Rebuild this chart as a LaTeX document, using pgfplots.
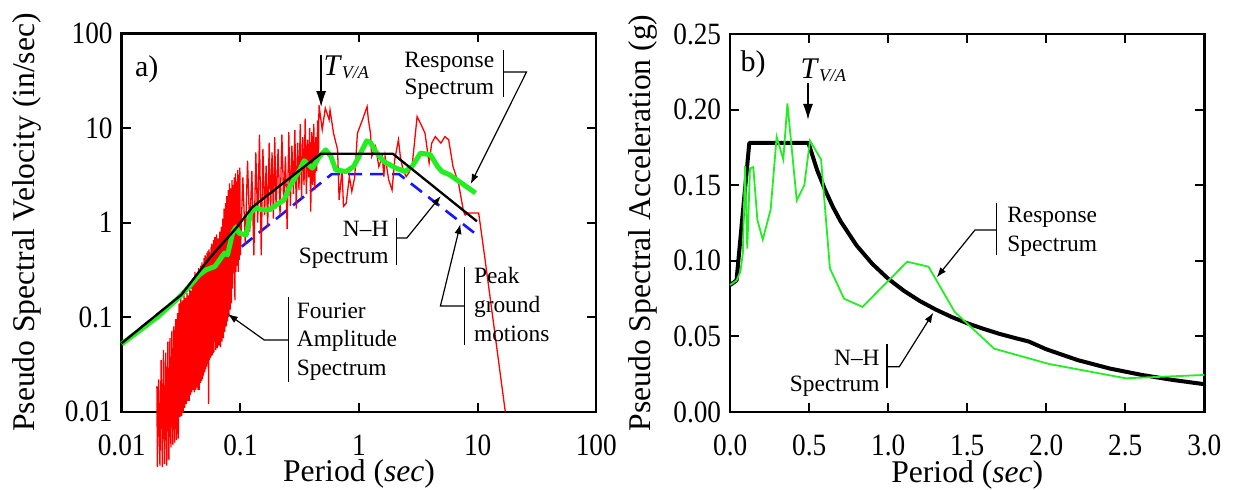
\documentclass[border=0pt]{standalone}
\usepackage{fontspec}
\setmainfont{Liberation Serif}
\newfontfamily\tickfont{Liberation Serif}[FakeStretch=0.88]
\usepackage{pgfplots}
\pgfplotsset{compat=1.18}
\usetikzlibrary{arrows.meta}
\definecolor{fasred}{HTML}{FF0000}
\definecolor{rsgreen}{HTML}{22EE22}
\definecolor{pgmblue}{HTML}{1515FF}
\newcommand{\annot}{\fontsize{11.7}{14}\selectfont}
\newcommand{\TVA}{\textit{T}\raisebox{-1.5pt}{\fontsize{9}{9}\selectfont\itshape V/A}}

\tikzset{arr/.style={line width=0.6pt, -{Latex[length=5pt,width=3.6pt]}}}
\pgfplotsset{
  panel/.style={
    scale only axis, anchor=south west, clip=false,
    axis line style={line width=1.2pt},
    every tick/.style={black, line width=1pt},
    major tick length=4.5pt, tick align=inside,
    ticklabel style={font=\tickfont\fontsize{15.5}{18}\selectfont},
    /pgf/number format/assume math mode=true,
    xticklabel style={anchor=base, yshift=-21.7pt, inner sep=0.5pt},
    yticklabel style={xshift=-1pt},
    label style={font=\fontsize{15.8}{19}\selectfont},
    xlabel style={at={(axis description cs:0.5,0)}, anchor=base, yshift=-35pt, inner sep=0.5pt},
    scaled ticks=false,
  },
}

\begin{document}
\begin{tikzpicture}
% ---- a) velocity spectra, log-log
\begin{axis}[panel, at={(60.85pt,38.65pt)}, width=237.3pt, height=189.2pt,
  xmode=log, ymode=log, xmin=0.01, xmax=100, ymin=0.01, ymax=100,
  xtick={0.01,0.1,1,10,100}, xticklabels={0.01,0.1,1,10,100},
  ytick={0.01,0.1,1,10,100}, yticklabels={0.01,0.1,1,10,100},
  xminorticks=false, yminorticks=false,
  xlabel={Period (\textit{sec})},
  ylabel={Pseudo Spectral Velocity (in/sec)},
  ylabel style={at={(axis description cs:-0.1828,0.5)}, anchor=base}]
% peak ground motions
\addplot[pgmblue, line width=1.3pt, dash pattern=on 7pt off 4pt] coordinates {
(0.01,0.053)(0.59,3.25)(2.17,3.25)(9.86,0.74)
};
% Fourier amplitude spectrum
\addplot[fasred, line width=0.65pt] coordinates {
(0.0198,0.0185)(0.0200,0.0026)(0.0205,0.022)(0.0210,0.0027)(0.0215,0.035)(0.0220,0.0026)
(0.0225,0.045)(0.0230,0.0028)(0.0235,0.042)(0.0240,0.0027)(0.0245,0.055)(0.0250,0.0031)
(0.0255,0.060)(0.0260,0.0042)(0.0265,0.072)(0.0270,0.0045)(0.0275,0.080)(0.0280,0.0047)
(0.0285,0.095)(0.0290,0.0050)(0.0295,0.110)(0.0300,0.0052)(0.0305,0.140)(0.0310,0.0088)
(0.0315,0.160)(0.0320,0.0090)(0.0325,0.150)(0.0330,0.0098)(0.0335,0.170)(0.0340,0.011)
(0.0345,0.160)(0.0350,0.012)(0.0355,0.180)(0.0360,0.013)(0.0365,0.170)(0.0370,0.013)
(0.0375,0.200)(0.0380,0.015)(0.0385,0.190)(0.0390,0.016)(0.0395,0.220)(0.0400,0.017)
(0.0405,0.240)(0.0410,0.016)(0.0415,0.300)(0.0420,0.017)(0.0425,0.280)(0.0430,0.018)
(0.0435,0.300)(0.0440,0.017)(0.0445,0.330)(0.0450,0.017)(0.0455,0.310)(0.0460,0.020)
(0.0465,0.350)(0.0470,0.021)(0.0475,0.380)(0.0480,0.022)(0.0485,0.360)(0.0490,0.024)
(0.0495,0.420)(0.0500,0.026)(0.0505,0.450)(0.0510,0.028)(0.0515,0.430)(0.0520,0.030)
(0.0525,0.480)(0.0530,0.032)(0.0535,0.500)(0.0540,0.012)(0.0545,0.520)(0.0550,0.035)
(0.0555,0.480)(0.0560,0.037)(0.0565,0.550)(0.0570,0.039)(0.0575,0.600)(0.0580,0.040)
(0.0585,0.580)(0.0590,0.042)(0.0595,0.650)(0.0600,0.043)
(0.061,0.70)(0.062,0.045)(0.063,0.75)(0.064,0.047)(0.065,0.68)(0.066,0.050)
(0.067,0.80)(0.068,0.048)(0.069,0.90)(0.070,0.055)(0.071,1.10)(0.072,0.060)
(0.073,1.40)(0.074,0.070)(0.075,1.60)(0.076,0.080)(0.077,1.90)(0.078,0.090)
(0.079,2.20)(0.080,0.100)(0.081,2.60)(0.082,0.120)(0.083,2.30)(0.084,0.140)
(0.085,2.80)(0.086,0.200)(0.087,2.50)(0.088,0.290)(0.089,3.00)(0.090,0.150)
(0.091,3.30)(0.092,0.300)(0.093,2.70)(0.094,0.350)(0.095,3.60)(0.096,0.300)
(0.097,3.20)(0.098,0.400)(0.099,3.80)(0.100,0.450)
(0.105,3.0)(0.110,0.6)(0.115,4.5)(0.120,0.8)(0.125,3.5)(0.130,0.45)(0.135,5.5)
(0.140,1.0)(0.145,8.5)(0.150,0.45)(0.155,6.0)(0.160,1.2)(0.165,4.0)(0.170,0.9)
(0.175,7.0)(0.180,1.3)(0.185,5.5)(0.190,1.1)(0.195,8.0)(0.200,1.4)(0.208,6.0)
(0.216,1.2)(0.224,8.5)(0.232,1.6)(0.240,5.0)(0.248,0.85)(0.256,9.0)(0.264,1.5)
(0.272,6.5)(0.280,2.0)(0.288,9.5)(0.296,1.4)(0.304,7.0)(0.312,2.2)(0.320,11.0)
(0.328,1.8)(0.336,8.0)(0.344,2.5)(0.352,12.5)(0.360,2.0)(0.368,7.5)(0.376,3.0)
(0.384,10.0)(0.392,1.3)(0.400,9.0)(0.408,2.5)(0.416,11.0)(0.424,2.2)(0.432,8.0)
(0.440,3.5)(0.448,12.0)(0.456,5.0)(0.460,17.5)
(0.49,9.6)(0.52,16.2)(0.56,12.2)(0.57,15.5)(0.61,8.8)(0.66,5.9)(0.68,1.74)
(0.72,3.6)(0.74,1.48)(0.78,1.6)(0.83,3.06)(0.87,2.13)(0.92,3.0)(0.97,8.8)
(1.07,12.2)(1.17,16.8)(1.20,12.2)(1.25,8.8)(1.28,5.0)(1.38,6.4)(1.47,3.9)
(1.57,5.0)(1.62,3.06)(1.66,5.0)(1.78,2.83)(1.90,2.2)(2.00,4.6)(2.15,7.5)
(2.23,5.0)(2.35,3.6)(2.50,3.06)(2.62,3.33)(2.80,3.9)(3.09,13.2)(3.40,10.3)
(3.60,8.8)(3.90,4.25)(4.10,6.9)(4.40,8.1)(4.90,6.9)(5.30,8.1)(5.70,7.5)
(6.20,3.9)(6.90,2.6)(7.60,1.31)(7.85,1.2)(8.30,1.26)(9.50,1.26)(10.2,1.26)
(11.6,0.39)(17.1,0.01)
};
% response spectrum
\addplot[rsgreen, line width=2.5pt, line join=round] coordinates {
(0.01,0.052)(0.02,0.100)(0.031,0.165)(0.037,0.210)(0.045,0.28)(0.0515,0.316)
(0.061,0.343)(0.0735,0.475)(0.078,0.456)(0.086,0.77)(0.092,0.90)(0.098,0.77)
(0.112,0.74)(0.123,1.31)(0.136,1.42)(0.154,1.36)(0.174,1.36)(0.212,1.6)
(0.234,1.74)(0.261,2.4)(0.316,3.6)(0.345,4.5)(0.405,3.76)(0.464,5.0)
(0.524,5.87)(0.58,5.0)(0.637,3.6)(0.78,3.46)(0.90,3.9)(1.0,5.0)(1.16,7.3)
(1.25,7.0)(1.40,5.5)(1.62,4.4)(2.05,3.76)(2.44,3.46)(2.80,3.9)(3.30,5.42)
(4.0,5.2)(4.6,3.9)(5.0,3.46)(5.8,3.2)(9.6,2.05)
};
% N-H spectrum
\addplot[black, line width=1.15pt] coordinates {
(0.01,0.053)(0.0318,0.172)(0.055,0.42)(0.092,0.87)(0.126,1.45)
(0.477,5.33)(1.93,5.33)(9.86,1.03)
};
% annotations
\node[anchor=base west, inner sep=0, font=\fontsize{15}{18}\selectfont] at (axis description cs:0.0273,0.887) {a)};
\node[anchor=base west, inner sep=0, font=\fontsize{15}{18}\selectfont] at (axis description cs:0.4244,0.8898) {\TVA};
\draw[line width=0.7pt, -{Latex[length=8pt,width=5pt]}] (axis description cs:0.4202,0.943) -- (axis description cs:0.4202,0.805);
\node[anchor=base east, inner sep=0, font=\annot] at (axis description cs:0.7857,0.911) {Response};
\node[anchor=base east, inner sep=0, font=\annot] at (axis description cs:0.7857,0.8396) {Spectrum};
\draw[line width=0.8pt] (axis description cs:0.8046,0.9559) -- (axis description cs:0.8046,0.8316);
\draw[arr] (axis description cs:0.8046,0.8977) -- (axis description cs:0.853,0.8977) -- (axis description cs:0.7353,0.6017);
\node[anchor=base east, inner sep=0, font=\annot] at (axis description cs:0.563,0.4643) {N--H};
\node[anchor=base east, inner sep=0, font=\annot] at (axis description cs:0.563,0.393) {Spectrum};
\draw[line width=0.8pt] (axis description cs:0.5788,0.5119) -- (axis description cs:0.5788,0.3877);
\draw[arr] (axis description cs:0.5788,0.459) -- (axis description cs:0.6008,0.459) -- (axis description cs:0.6723,0.570);
\node[anchor=base west, inner sep=0, font=\annot] at (axis description cs:0.7416,0.3396) {Peak};
\node[anchor=base west, inner sep=0, font=\annot] at (axis description cs:0.7416,0.2629) {ground};
\node[anchor=base west, inner sep=0, font=\annot] at (axis description cs:0.7416,0.1863) {motions};
\draw[line width=0.8pt] (axis description cs:0.7227,0.3824) -- (axis description cs:0.7227,0.1763);
\draw[arr] (axis description cs:0.7227,0.2793) -- (axis description cs:0.6716,0.2793) -- (axis description cs:0.7137,0.496);
\node[anchor=base west, inner sep=0, font=\annot] at (axis description cs:0.3683,0.2474) {Fourier};
\node[anchor=base west, inner sep=0, font=\annot] at (axis description cs:0.3683,0.1712) {Amplitude};
\node[anchor=base west, inner sep=0, font=\annot] at (axis description cs:0.3683,0.0970) {Spectrum};
\draw[line width=0.8pt] (axis description cs:0.3515,0.3039) -- (axis description cs:0.3515,0.0793);
\draw[arr] (axis description cs:0.3515,0.1895) -- (axis description cs:0.3004,0.1895) -- (axis description cs:0.2237,0.2582);
\end{axis}

% ---- b) acceleration spectra
\begin{axis}[panel, at={(365.1pt,38.5pt)}, width=237.05pt, height=189pt,
  xmin=0, xmax=3, ymin=0, ymax=0.25,
  xtick={0,0.5,1,1.5,2,2.5,3}, xticklabels={0.0,0.5,1.0,1.5,2.0,2.5,3.0},
  ytick={0,0.05,0.1,0.15,0.2,0.25}, yticklabels={0.00,0.05,0.10,0.15,0.20,0.25},
  xlabel={Period (\textit{sec})},
  ylabel={Pseudo Spectral Acceleration (g)},
  ylabel style={at={(axis description cs:-0.1687,0.5)}, anchor=base}]
% N-H spectrum
\addplot[black, line width=2pt, line join=round] coordinates {
(0,0.084)(0.04,0.087)(0.121,0.178)(0.495,0.178)(0.55,0.160)(0.6,0.147)
(0.65,0.1356)(0.7,0.1259)(0.8,0.1101)(0.9,0.0979)(1.0,0.0881)(1.1,0.0801)
(1.2,0.0734)(1.3,0.0678)(1.4,0.0629)(1.5,0.0587)(1.6,0.0551)(1.7,0.0518)
(1.8,0.0490)(1.89,0.0466)(2.0,0.0415)(2.2,0.0343)(2.4,0.0288)(2.6,0.0246)
(2.8,0.0212)(3.0,0.0184)
};
% response spectrum
\addplot[rsgreen, line width=0.9pt] coordinates {
(0,0.084)(0.04,0.087)(0.065,0.093)(0.08,0.105)(0.094,0.163)(0.108,0.108)
(0.125,0.161)(0.146,0.162)(0.172,0.127)(0.206,0.114)(0.256,0.134)(0.294,0.182)
(0.336,0.167)(0.362,0.204)(0.421,0.140)(0.469,0.150)(0.505,0.1795)(0.575,0.167)
(0.631,0.095)(0.72,0.075)(0.837,0.0695)(1.12,0.0994)(1.255,0.0961)(1.42,0.0663)
(1.67,0.0419)(2.016,0.0318)(2.503,0.0223)(3.0,0.0245)
};
% annotations
\node[anchor=base west, inner sep=0, font=\fontsize{15}{18}\selectfont] at (axis description cs:0.0213,0.902) {b)};
\node[anchor=base west, inner sep=0, font=\fontsize{15}{18}\selectfont] at (axis description cs:0.1479,0.8829) {\TVA};
\draw[line width=0.7pt, -{Latex[length=8pt,width=5pt]}] (axis description cs:0.1641,0.8704) -- (axis description cs:0.1641,0.7725);
\node[anchor=base west, inner sep=0, font=\annot] at (axis description cs:0.5838,0.5026) {Response};
\node[anchor=base west, inner sep=0, font=\annot] at (axis description cs:0.5838,0.4241) {Spectrum};
\draw[line width=0.8pt] (axis description cs:0.5621,0.5529) -- (axis description cs:0.5621,0.4153);
\draw[arr] (axis description cs:0.5621,0.4815) -- (axis description cs:0.5163,0.4815) -- (axis description cs:0.4356,0.3563);
\node[anchor=base east, inner sep=0, font=\annot] at (axis description cs:0.316,0.1243) {N--H};
\node[anchor=base east, inner sep=0, font=\annot] at (axis description cs:0.316,0.0537) {Spectrum};
\draw[line width=0.8pt] (axis description cs:0.3301,0.1799) -- (axis description cs:0.3301,0.0635);
\draw[arr] (axis description cs:0.3301,0.1198) -- (axis description cs:0.3567,0.1198) -- (axis description cs:0.4284,0.2627);
\end{axis}
\pgfresetboundingbox
\useasboundingbox (0,0) rectangle (616.5pt,244.5pt);
\end{tikzpicture}
\end{document}
